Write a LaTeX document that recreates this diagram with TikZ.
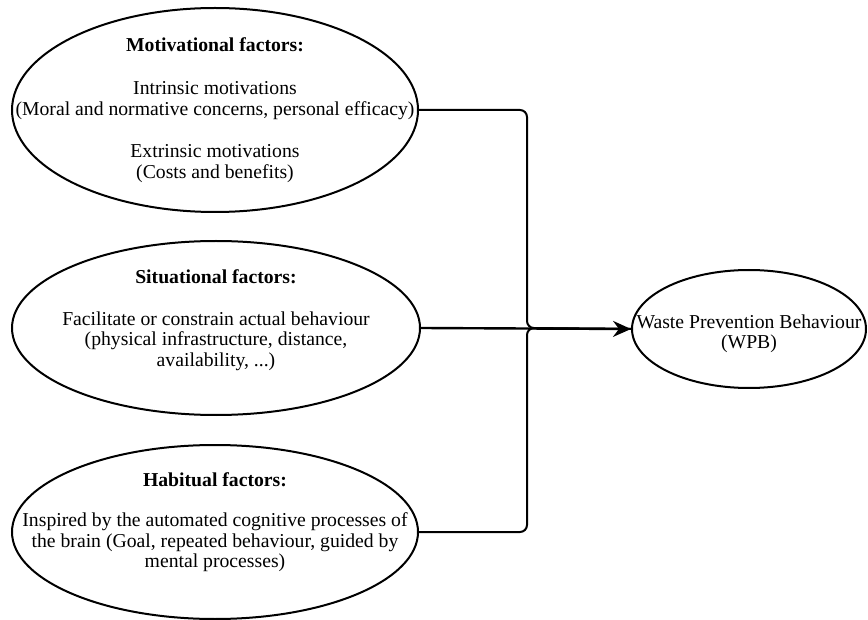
\documentclass[tikz,border=0pt]{standalone}
\usepackage{fontspec}
\setmainfont{Liberation Serif}
\usetikzlibrary{shapes.geometric,arrows.meta}

\begin{document}
\begin{tikzpicture}
[x=1pt,y=-1pt,line width=2pt,%
  every node/.style={align=center,font=\fontsize{19.7}{20.5}\selectfont},%
  factor/.style={shape=ellipse,draw,inner sep=0pt},%
  wire/.style={line width=2pt,rounded corners=7pt},%
  arrowwire/.style={line width=2.4pt,-{Stealth[length=18pt,width=16pt,inset=6pt]}}]
\useasboundingbox (0,0) rectangle (868,620);
\node[factor,minimum width=406pt,minimum height=204pt] (mot) at (215,110) {};
\node (motText) at (215,110) {\textbf{Motivational factors:}\\[23pt]
  Intrinsic motivations\\
  (Moral and normative concerns, personal efficacy)\\[22pt]
  Extrinsic motivations\\
  (Costs and benefits)};
\node[factor,minimum width=408pt,minimum height=174pt] (sit) at (216,328) {};
\node (sitText) at (216,320) {\textbf{Situational factors:}\\[21pt]
  Facilitate or constrain actual behaviour\\
  (physical infrastructure, distance,\\
  availability, ...)};
\node[factor,minimum width=406pt,minimum height=174pt] (hab) at (215,532) {};
\node (habText) at (215,522) {\textbf{Habitual factors:}\\[20pt]
  Inspired by the automated cognitive processes of\\
  the brain (Goal, repeated behaviour, guided by\\
  mental processes)};
\node[factor,minimum width=234pt,minimum height=118pt] (wpb) at (749,329) {};
\node (wpbText) at (749,334) {Waste Prevention Behaviour\\ (WPB)};
\coordinate (junc) at (527,328);
\draw[wire] (mot.east) -| (junc) -- (wpb.west);
\draw[wire] (hab.east) -| (junc) -- (wpb.west);
\draw[arrowwire] (sit.east) -- (wpb.west);
\end{tikzpicture}
\end{document}
